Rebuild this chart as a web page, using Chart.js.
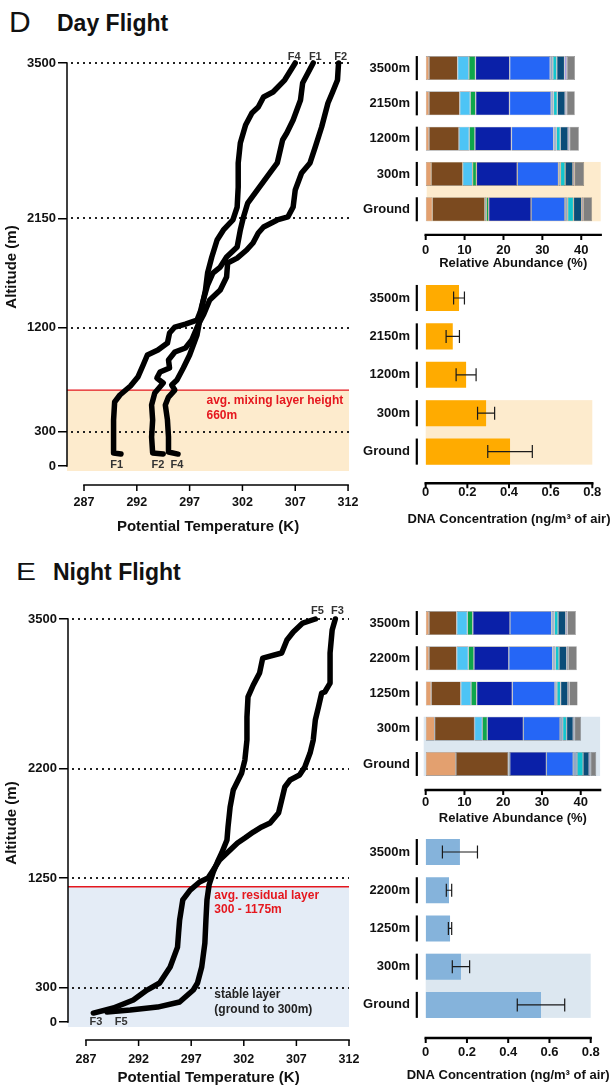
<!DOCTYPE html>
<html>
<head>
<meta charset="utf-8">
<script src="https://cdn.jsdelivr.net/npm/chart.js@4.4.1/dist/chart.umd.min.js"></script>
<style>
  html, body { margin: 0; padding: 0; background: #fff; }
  body { width: 616px; height: 1091px; position: relative; overflow: hidden;
         font-family: 'Liberation Sans', Arial, Helvetica, sans-serif; color: #111; }
  canvas { position: absolute; }
  .letter { position: absolute; line-height: 1; font-weight: normal; transform-origin: left top; }
  .title { position: absolute; line-height: 1; font-weight: bold; font-size: 23px; }
</style>
</head>
<body>
<div class="letter" style="left:9px;top:7px;font-size:30px">D</div>
<div class="title" style="left:57px;top:12px">Day Flight</div>
<div class="letter" style="left:16px;top:561px;font-size:23px;transform:scaleX(1.3)">E</div>
<div class="title" style="left:53px;top:561px">Night Flight</div>

<canvas id="lineDay" width="360" height="500" style="left:0;top:40px"></canvas>
<canvas id="lineNight" width="360" height="491" style="left:0;top:600px"></canvas>
<canvas id="abDay" width="256" height="240" style="left:360px;top:40px"></canvas>
<canvas id="dnaDay" width="256" height="270" style="left:360px;top:265px"></canvas>
<canvas id="abNight" width="256" height="235" style="left:360px;top:595px"></canvas>
<canvas id="dnaNight" width="256" height="271" style="left:360px;top:820px"></canvas>

<script>
// ---- potential temperature profiles (K) vs altitude (m) ----
const f1Temp = [308.7, 307.7, 307.5, 306.8, 306.2, 305.8, 305.3, 304.6, 303.4, 302.5, 302.1, 301.8, 301.5, 300.5, 299.9, 299.2, 298.7, 298.3, 298.0, 297.7, 296.6, 295.6, 295.1, 294.9, 294.0, 293.0, 292.6, 292.1, 291.4, 290.4, 289.9, 289.8, 289.8, 289.8, 290.5];
const f1Alt = [3500, 3326, 3179, 3005, 2892, 2831, 2632, 2545, 2397, 2284, 2163, 2050, 1902, 1815, 1728, 1676, 1572, 1442, 1337, 1268, 1233, 1207, 1155, 1068, 1007, 964, 877, 773, 695, 617, 556, 400, 252, 113, 104];
const f2Temp = [311.1, 311.0, 310.5, 310.1, 309.5, 308.9, 308.4, 307.6, 307.0, 306.8, 306.3, 305.3, 304.0, 303.5, 303.0, 302.4, 301.5, 300.6, 300.5, 299.9, 298.9, 298.3, 297.8, 297.2, 296.6, 295.6, 295.0, 295.1, 294.2, 293.9, 294.5, 293.7, 293.4, 293.5, 293.4, 293.5, 294.5];
const f2Alt = [3500, 3352, 3240, 3153, 2944, 2771, 2632, 2545, 2397, 2249, 2163, 2137, 2076, 2024, 1937, 1876, 1806, 1763, 1641, 1529, 1442, 1311, 1225, 1094, 1025, 990, 921, 851, 816, 764, 721, 634, 530, 400, 252, 113, 104];
const f4Temp = [307.0, 306.0, 304.9, 304.0, 303.5, 302.9, 302.3, 301.8, 301.6, 301.6, 301.5, 301.1, 300.2, 299.6, 299.1, 298.7, 298.5, 298.2, 298.0, 297.7, 297.0, 296.4, 295.8, 295.3, 295.6, 295.0, 294.7, 294.9, 295.0, 295.0, 295.9];
const f4Alt = [3500, 3352, 3248, 3205, 3118, 3066, 2962, 2805, 2632, 2423, 2249, 2137, 2050, 1963, 1815, 1676, 1529, 1398, 1285, 1138, 964, 851, 747, 703, 660, 599, 530, 400, 252, 122, 104];
const f3Temp = [310.7, 310.4, 310.2, 310.2, 309.7, 309.4, 309.1, 308.8, 308.6, 308.3, 307.8, 307.3, 306.4, 305.9, 305.6, 305.3, 304.5, 303.7, 302.9, 302.1, 301.4, 300.4, 299.7, 299.1, 298.6, 297.8, 296.9, 296.2, 295.9, 295.8, 295.7, 295.0, 294.0, 292.8, 291.5, 289.6, 287.7];
const f3Alt = [3500, 3405, 3205, 2944, 2866, 2857, 2736, 2623, 2449, 2336, 2215, 2145, 2102, 2041, 1928, 1815, 1728, 1694, 1650, 1598, 1555, 1468, 1407, 1320, 1251, 1216, 1146, 1060, 886, 773, 651, 478, 339, 278, 191, 122, 78];
const f5Temp = [308.8, 307.6, 306.7, 306.1, 305.6, 303.8, 303.5, 302.9, 302.4, 302.3, 302.3, 302.1, 301.8, 301.0, 300.7, 300.5, 300.4, 299.9, 299.5, 299.1, 298.7, 298.5, 298.4, 298.3, 298.0, 297.6, 297.2, 295.9, 293.8, 291.2, 289.0];
const f5Alt = [3500, 3465, 3387, 3318, 3205, 3161, 3031, 2927, 2823, 2649, 2449, 2275, 2163, 2015, 1867, 1694, 1581, 1468, 1390, 1303, 1190, 1060, 886, 686, 478, 339, 278, 174, 130, 104, 87];

const tempTicks = [287, 292, 297, 302, 307, 312];
const dayAltTicks = [0, 300, 1200, 2150, 3500];
const nightAltTicks = [0, 300, 1250, 2200, 3500];

// ---- relative abundance (%) per sampling height ----
const dayHeights = ['3500m', '2150m', '1200m', '300m', 'Ground'];
const nightHeights = ['3500m', '2200m', '1250m', '300m', 'Ground'];
const abundanceTicks = [0, 10, 20, 30, 40];

const dayTan = [0.85, 0.85, 0.85, 1.4, 1.7];
const dayBrown = [7.35, 7.9, 7.7, 8.1, 13.5];
const daySky = [2.9, 2.7, 2.65, 2.55, 0.4];
const dayGreen = [1.7, 1.4, 1.45, 1.0, 0.6];
const dayNavy = [8.8, 8.7, 9.4, 10.5, 10.9];
const dayBlue = [10.4, 10.7, 10.85, 10.6, 8.7];
const daySlate = [0.7, 0.6, 0.7, 0.5, 0.7];
const dayCyan = [1.0, 1.0, 1.0, 1.2, 1.5];
const dayTeal = [2.0, 2.0, 2.0, 2.0, 2.1];
const dayLilac = [0.6, 0.4, 0.4, 0.4, 0.4];
const dayGrey = [2.1, 2.1, 2.4, 2.5, 2.3];

const nightTan = [0.85, 0.85, 1.4, 2.3, 7.8];
const nightBrown = [7.15, 7.15, 7.65, 10.3, 13.5];
const nightSky = [2.75, 3.0, 2.65, 2.0, 0.1];
const nightGreen = [1.4, 1.45, 1.45, 1.3, 0.3];
const nightNavy = [9.6, 9.0, 9.2, 9.3, 9.45];
const nightBlue = [10.75, 11.3, 11.0, 9.45, 6.9];
const nightSlate = [0.7, 0.7, 0.5, 0.7, 1.0];
const nightCyan = [0.95, 0.95, 0.95, 1.0, 1.55];
const nightTeal = [2.0, 2.0, 1.9, 1.7, 1.55];
const nightLilac = [0.4, 0.35, 0.35, 0.35, 0.4];
const nightGrey = [2.2, 2.25, 2.15, 1.7, 1.45];

// ---- DNA concentration (ng/m3 of air), mean and SD ----
const dnaTicks = [0, 0.2, 0.4, 0.6, 0.8];
const dayDna = [0.16, 0.13, 0.194, 0.29, 0.405];
const dayDnaSd = [0.026, 0.032, 0.048, 0.041, 0.107];
const nightDna = [0.166, 0.113, 0.118, 0.171, 0.559];
const nightDnaSd = [0.085, 0.013, 0.008, 0.042, 0.115];

const groupColors = ['#E3A06F', '#7B4A1F', '#4DC4F5', '#0EA64B', '#0A20A8', '#2566F6',
                     '#8FA8C8', '#12C5CE', '#0B4C78', '#9B8EE3', '#808080'];

const FONT = "'Liberation Sans', Arial, Helvetica, sans-serif";
Chart.defaults.font.family = FONT;
Chart.defaults.color = '#111';
Chart.defaults.animation = false;
Chart.defaults.events = [];
Chart.defaults.plugins.legend.display = false;
Chart.defaults.plugins.tooltip.enabled = false;

const bold = (size) => ({ size, weight: 'bold' });
const plain = (v) => String(v);

// x axis drawn a little below the plot area (GraphPad style)
function detachedAxis(cfg) {
  return {
    id: 'detachedAxis',
    afterDraw(chart) {
      const { ctx, chartArea } = chart;
      const xs = chart.scales.x;
      const y = chartArea.bottom + cfg.gap;
      ctx.save();
      ctx.strokeStyle = '#000';
      ctx.lineWidth = cfg.width;
      ctx.beginPath();
      ctx.moveTo(xs.getPixelForValue(cfg.from) - cfg.width / 2, y);
      ctx.lineTo(xs.getPixelForValue(cfg.to) + cfg.width / 2, y);
      ctx.stroke();
      ctx.lineWidth = cfg.tickWidth;
      ctx.beginPath();
      cfg.ticks.forEach((v) => {
        const px = xs.getPixelForValue(v);
        ctx.moveTo(px, y);
        ctx.lineTo(px, y + cfg.tickLen);
      });
      ctx.stroke();
      // long axis titles are drawn here so they are not squeezed to the plot width
      if (cfg.title) {
        ctx.font = `bold 13px ${FONT}`;
        ctx.fillStyle = '#111';
        ctx.textAlign = 'center';
        ctx.textBaseline = 'middle';
        ctx.fillText(cfg.title, (chartArea.left + chartArea.right) / 2, chartArea.bottom + cfg.titleOffset);
      }
      ctx.restore();
    },
  };
}

// shaded layer, reference lines and labels of the profile panels
function profileDecor(cfg) {
  return {
    id: 'profileDecor',
    beforeDatasetsDraw(chart) {
      const { ctx, chartArea: a, scales: { x, y } } = chart;
      const yLayer = y.getPixelForValue(cfg.layerTop);
      ctx.save();
      ctx.fillStyle = cfg.shade;
      ctx.fillRect(a.left, yLayer, a.right - a.left, a.bottom - yLayer);

      ctx.strokeStyle = '#222';
      ctx.lineWidth = 2;
      ctx.setLineDash([2, 4]);
      cfg.dotted.forEach((v) => {
        const py = Math.round(y.getPixelForValue(v));
        ctx.beginPath();
        ctx.moveTo(a.left + 4, py);
        ctx.lineTo(a.right, py);
        ctx.stroke();
      });
      ctx.setLineDash([]);

      ctx.strokeStyle = '#E5171E';
      ctx.lineWidth = 1.3;
      ctx.beginPath();
      ctx.moveTo(a.left, yLayer);
      ctx.lineTo(a.right, yLayer);
      ctx.stroke();

      ctx.strokeStyle = '#000';
      ctx.lineWidth = 1.5;
      ctx.beginPath();
      ctx.moveTo(a.left, y.getPixelForValue(0) + 0.75);
      ctx.lineTo(a.left, y.getPixelForValue(3500) - 0.75);
      ctx.stroke();
      ctx.restore();
    },
    afterDatasetsDraw(chart) {
      const { ctx, scales: { x, y } } = chart;
      ctx.save();
      ctx.textBaseline = 'middle';
      cfg.labels.forEach((l) => {
        ctx.font = `bold ${l.size}px ${FONT}`;
        ctx.fillStyle = l.color;
        ctx.textAlign = l.align || 'center';
        ctx.fillText(l.text, x.getPixelForValue(l.t), y.getPixelForValue(l.alt));
      });
      ctx.restore();
    },
  };
}

// row shading and the short black category marks of the bar panels
function rowDecor(cfg) {
  return {
    id: 'rowDecor',
    beforeDatasetsDraw(chart) {
      const { ctx, chartArea: a } = chart;
      const bars = chart.getDatasetMeta(0).data;
      const top = bars[cfg.from].y - bars[cfg.from].height / 2;
      const bottom = bars[cfg.to].y + bars[cfg.to].height / 2;
      ctx.save();
      ctx.fillStyle = cfg.shade;
      ctx.fillRect(a.left + cfg.shadeLeft, top, a.right - a.left - cfg.shadeLeft, bottom - top);
      ctx.fillStyle = '#000';
      bars.forEach((b) => ctx.fillRect(a.left - 10, b.y - b.height / 2, 2.2, b.height));
      ctx.restore();
    },
  };
}

function errorBars(sd) {
  return {
    id: 'errorBars',
    afterDatasetsDraw(chart) {
      const { ctx } = chart;
      const xs = chart.scales.x;
      const values = chart.data.datasets[0].data;
      ctx.save();
      ctx.strokeStyle = '#1a1a1a';
      ctx.lineWidth = 1.2;
      chart.getDatasetMeta(0).data.forEach((bar, i) => {
        const lo = xs.getPixelForValue(values[i] - sd[i]);
        const hi = xs.getPixelForValue(values[i] + sd[i]);
        ctx.beginPath();
        ctx.moveTo(lo, bar.y);
        ctx.lineTo(hi, bar.y);
        ctx.moveTo(lo, bar.y - 6.5);
        ctx.lineTo(lo, bar.y + 6.5);
        ctx.moveTo(hi, bar.y - 6.5);
        ctx.lineTo(hi, bar.y + 6.5);
        ctx.stroke();
      });
      ctx.restore();
    },
  };
}

function profileChart(id, o) {
  return new Chart(document.getElementById(id), {
    type: 'scatter',
    data: {
      datasets: o.flights.map(([temp, alt]) => ({
        data: temp.map((t, i) => ({ x: t, y: alt[i] })),
        showLine: true,
        borderColor: '#000',
        borderWidth: 5.5,
        pointRadius: 0,
        tension: 0,
        borderJoinStyle: 'round',
        borderCapStyle: 'round',
        clip: false,
      })),
    },
    options: {
      responsive: false,
      layout: { padding: o.padding },
      scales: {
        x: {
          type: 'linear', min: o.xMin, max: o.xMax,
          afterBuildTicks: (s) => { s.ticks = tempTicks.map((v) => ({ value: v })); },
          afterFit: (s) => { s.height = o.xHeight; },
          grid: { display: false, drawTicks: true, tickLength: o.xLabelGap },
          border: { display: false },
          ticks: { font: bold(12.5), padding: 0, autoSkip: false, maxRotation: 0, callback: plain },
          title: { display: true, text: 'Potential Temperature (K)', font: bold(15), padding: { top: 0, bottom: o.xTitlePad } },
        },
        y: {
          type: 'linear', min: -43, max: 3500,
          afterBuildTicks: (s) => { s.ticks = o.yTicks.map((v) => ({ value: v })); },
          afterFit: (s) => { s.width = o.yWidth; },
          grid: { drawOnChartArea: false, drawTicks: true, tickLength: 9, color: '#000', lineWidth: 1.5 },
          border: { display: false },
          ticks: { font: bold(13), padding: 2, autoSkip: false, callback: plain },
          title: { display: true, text: 'Altitude (m)', font: bold(15), padding: { top: 3, bottom: 0 } },
        },
      },
    },
    plugins: [
      profileDecor(o),
      detachedAxis({ from: 287, to: 312, ticks: tempTicks, gap: o.axisGap, width: 1.6, tickWidth: 1.5, tickLen: 6 }),
    ],
  });
}

function barOptions(o) {
  return {
    indexAxis: 'y',
    responsive: false,
    layout: { padding: o.padding },
    datasets: { bar: { categoryPercentage: 1, barPercentage: 0.68 } },
    scales: {
      x: {
        type: 'linear', stacked: o.stacked, min: 0, max: o.xMax,
        afterBuildTicks: (s) => { s.ticks = o.xTicks.map((v) => ({ value: v })); },
        afterFit: (s) => { s.height = o.xHeight; },
        grid: { display: false, drawTicks: true, tickLength: o.xLabelGap },
        border: { display: false },
        ticks: { font: bold(13), padding: 0, autoSkip: false, maxRotation: 0, callback: plain },
        title: { display: !!o.xTitle, text: o.xTitle || '', font: bold(13), padding: { top: 0, bottom: o.xTitlePad } },
      },
      y: {
        type: 'category', stacked: o.stacked,
        afterFit: (s) => { s.width = 65.7; },
        grid: { display: false, drawTicks: true, tickLength: 15.7 },
        border: { display: false },
        ticks: { font: bold(13), padding: 0, autoSkip: false },
      },
    },
  };
}

function abundanceChart(id, labels, groups, o) {
  return new Chart(document.getElementById(id), {
    type: 'bar',
    data: {
      labels,
      datasets: groups.map((g, i) => ({
        data: g,
        backgroundColor: groupColors[i],
        borderColor: 'rgba(25,25,25,0.45)',
        borderWidth: 0.6,
        borderSkipped: false,
      })),
    },
    options: barOptions({ ...o, stacked: true, xMax: 45, xTicks: abundanceTicks, xTitle: 'Relative Abundance (%)' }),
    plugins: [
      rowDecor({ from: 3, to: 4, shade: o.shade, shadeLeft: o.shadeLeft || 0 }),
      detachedAxis({ from: 0, to: 45, ticks: abundanceTicks, gap: o.axisGap, width: 2.4, tickWidth: 2, tickLen: 5 }),
    ],
  });
}

function dnaChart(id, labels, values, sd, o) {
  return new Chart(document.getElementById(id), {
    type: 'bar',
    data: { labels, datasets: [{ data: values, backgroundColor: o.color, borderWidth: 0 }] },
    options: barOptions({ ...o, stacked: false, xMax: 0.8, xTicks: dnaTicks, xTitle: null }),
    plugins: [
      rowDecor({ from: 3, to: 4, shade: o.shade, shadeLeft: 0 }),
      errorBars(sd),
      detachedAxis({ from: 0, to: 0.8, ticks: dnaTicks, gap: o.axisGap, width: 2.4, tickWidth: 2, tickLen: 5,
                     title: 'DNA Concentration (ng/m³ of air)', titleOffset: o.titleOffset }),
    ],
  });
}

profileChart('lineDay', {
  flights: [[f1Temp, f1Alt], [f2Temp, f2Alt], [f4Temp, f4Alt]],
  padding: { top: 23, right: 11, left: 0, bottom: 0 },
  xMin: 285.39, xMax: 312.09, xHeight: 69, xLabelGap: 23.8, xTitlePad: 4, axisGap: 14,
  yTicks: dayAltTicks, yWidth: 67,
  layerTop: 660, shade: '#FDEBCD', dotted: [300, 1200, 2150, 3500],
  labels: [
    { text: 'F4', t: 306.9, alt: 3552, size: 11, color: '#333' },
    { text: 'F1', t: 308.9, alt: 3552, size: 11, color: '#333' },
    { text: 'F2', t: 311.3, alt: 3552, size: 11, color: '#333' },
    { text: 'F1', t: 290.1, alt: 9, size: 11, color: '#333' },
    { text: 'F2', t: 294.0, alt: 9, size: 11, color: '#333' },
    { text: 'F4', t: 295.8, alt: 9, size: 11, color: '#333' },
    { text: 'avg. mixing layer height', t: 298.6, alt: 567, size: 12, color: '#E5171E', align: 'left' },
    { text: '660m', t: 298.6, alt: 434, size: 12, color: '#E5171E', align: 'left' },
  ],
});

profileChart('lineNight', {
  flights: [[f3Temp, f3Alt], [f5Temp, f5Alt]],
  padding: { top: 19, right: 11, left: 0, bottom: 0 },
  xMin: 285.29, xMax: 312.0, xHeight: 64, xLabelGap: 24.8, xTitlePad: 4, axisGap: 13,
  yTicks: nightAltTicks, yWidth: 68,
  layerTop: 1175, shade: '#E4ECF6', dotted: [300, 1250, 2200, 3500],
  labels: [
    { text: 'F5', t: 309.0, alt: 3570, size: 11, color: '#333' },
    { text: 'F3', t: 310.9, alt: 3570, size: 11, color: '#333' },
    { text: 'F3', t: 287.95, alt: 0, size: 11, color: '#333' },
    { text: 'F5', t: 290.35, alt: 0, size: 11, color: '#333' },
    { text: 'avg. residual layer', t: 299.2, alt: 1094, size: 12, color: '#E5171E', align: 'left' },
    { text: '300 - 1175m', t: 299.2, alt: 973, size: 12, color: '#E5171E', align: 'left' },
    { text: 'stable layer', t: 299.2, alt: 234, size: 12, color: '#222', align: 'left' },
    { text: '(ground to 300m)', t: 299.2, alt: 104, size: 12, color: '#222', align: 'left' },
  ],
});

abundanceChart('abDay', dayHeights,
  [dayTan, dayBrown, daySky, dayGreen, dayNavy, dayBlue, daySlate, dayCyan, dayTeal, dayLilac, dayGrey], {
    padding: { top: 10.4, right: 15.3, left: 0, bottom: 0 },
    xHeight: 53.1, xLabelGap: 15.3, xTitlePad: 9.2, axisGap: 8, shade: '#FDEBCD', shadeLeft: 1,
  });

dnaChart('dnaDay', dayHeights, dayDna, dayDnaSd, {
  padding: { top: 13.8, right: 23.7, left: 0, bottom: 0 },
  xHeight: 64.2, xLabelGap: 13.4, axisGap: 12.5, titleOffset: 48.2, shade: '#FDEBCD', color: '#FFAB00',
});

abundanceChart('abNight', nightHeights,
  [nightTan, nightBrown, nightSky, nightGreen, nightNavy, nightBlue, nightSlate, nightCyan, nightTeal, nightLilac, nightGrey], {
    padding: { top: 10.4, right: 15.9, left: 0, bottom: 0 },
    xHeight: 48.4, xLabelGap: 13.3, xTitlePad: 4.2, axisGap: 8.4, shade: '#DCE7F0', shadeLeft: -2,
  });

dnaChart('dnaNight', nightHeights, nightDna, nightDnaSd, {
  padding: { top: 12.9, right: 25.3, left: 0, bottom: 0 },
  xHeight: 67, xLabelGap: 20.2, axisGap: 14, titleOffset: 51, shade: '#DCE7F0', color: '#85B3DB',
});
</script>
</body>
</html>
